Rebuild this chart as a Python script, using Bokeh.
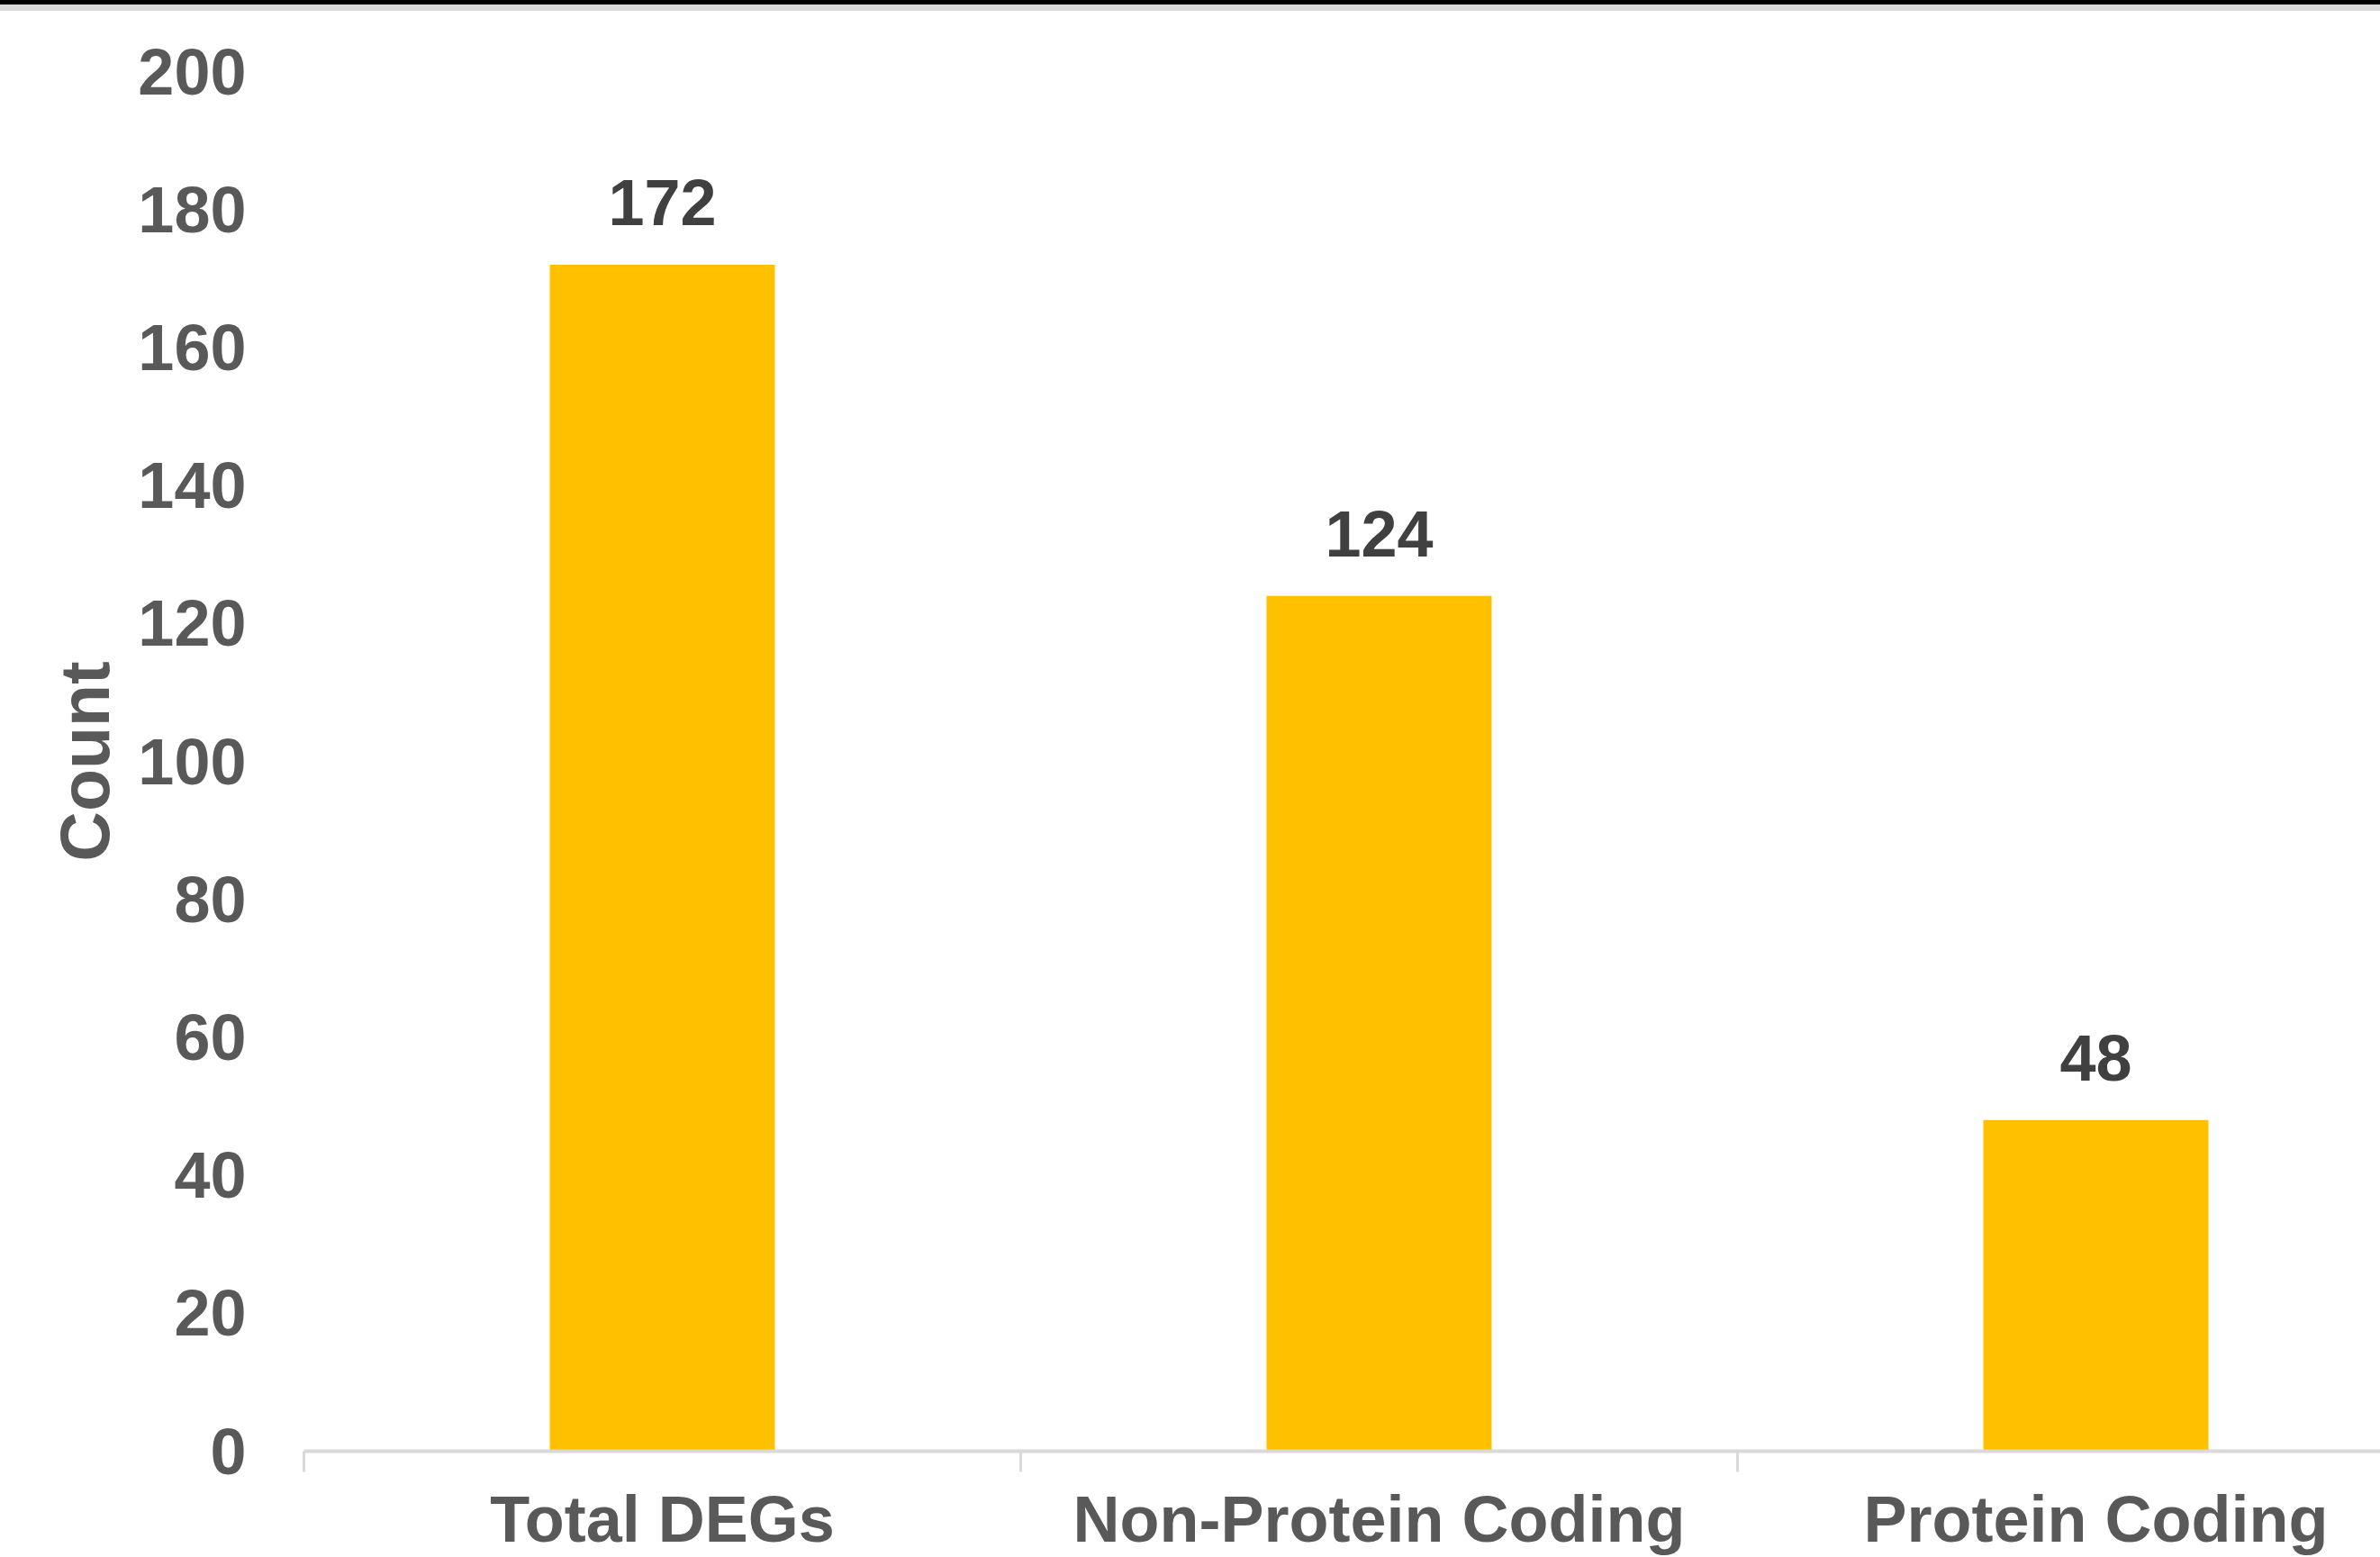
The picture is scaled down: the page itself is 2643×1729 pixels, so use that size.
from bokeh.plotting import figure
from bokeh.models import Range1d, FixedTicker, ColumnDataSource, Div
from bokeh.layouts import column
from bokeh.core.properties import value
from bokeh.embed import file_html
from bokeh.resources import INLINE

categories = ["Total DEGs", "Non-Protein Coding", "Protein Coding"]
counts = [172, 124, 48]
y_ticks = [0, 20, 40, 60, 80, 100, 120, 140, 160, 180, 200]

FONT = "Liberation Sans"
FS = "72px"

xs = [i + 0.5 for i in range(len(categories))]
src = ColumnDataSource(dict(x=xs, top=counts, label=[str(c) for c in counts]))

p = figure(width=2643, height=1717, output_backend="svg", toolbar_location=None,
           x_range=Range1d(0, 2.897), y_range=Range1d(0, 200),
           min_border_left=337, min_border_right=0, min_border_top=67, min_border_bottom=0)
p.outline_line_color = None
p.background_fill_color = "white"
p.border_fill_color = "white"
p.grid.visible = False

p.vbar(x="x", top="top", width=0.314, bottom=0, source=src, fill_color="#FFC000", line_color=None)
p.text(x="x", y="top", text="label", source=src, text_align="center", text_baseline="alphabetic",
       y_offset=-69, text_font=value(FONT), text_font_style="bold", text_font_size=FS,
       text_color="#404040")

# x axis
xa = p.xaxis[0]
xa.ticker = FixedTicker(ticks=xs, minor_ticks=list(range(len(categories) + 1)))
xa.major_label_overrides = {x: c for x, c in zip(xs, categories)}
xa.major_tick_out = 0
xa.major_tick_in = 0
xa.minor_tick_out = 23
xa.minor_tick_in = 0
xa.minor_tick_line_color = "#d9d9d9"
xa.minor_tick_line_width = 3
xa.axis_line_color = "#d9d9d9"
xa.axis_line_width = 4
xa.major_label_standoff = 12
xa.major_label_text_font = FONT
xa.major_label_text_font_style = "bold"
xa.major_label_text_font_size = FS
xa.major_label_text_color = "#595959"

# y axis
ya = p.yaxis[0]
ya.ticker = FixedTicker(ticks=y_ticks)
ya.axis_line_color = None
ya.major_tick_line_color = None
ya.minor_tick_line_color = None
ya.major_tick_out = 0
ya.major_label_standoff = 64
ya.major_label_text_font = FONT
ya.major_label_text_font_style = "bold"
ya.major_label_text_font_size = FS
ya.major_label_text_color = "#595959"
ya.axis_label = "Count"
ya.axis_label_standoff = 13
ya.axis_label_text_font = FONT
ya.axis_label_text_font_style = "bold"
ya.axis_label_text_font_size = "77px"
ya.axis_label_text_color = "#595959"

band = Div(text="", width=2643, height=12, margin=0,
           styles={"background-color": "#000000", "border-bottom": "7px solid #d9d9d9",
                   "box-sizing": "border-box", "padding": "0", "margin": "0"})
p.margin = 0
layout = column(band, p, spacing=0, margin=0)

open("out.html", "w").write(file_html(layout, INLINE))
